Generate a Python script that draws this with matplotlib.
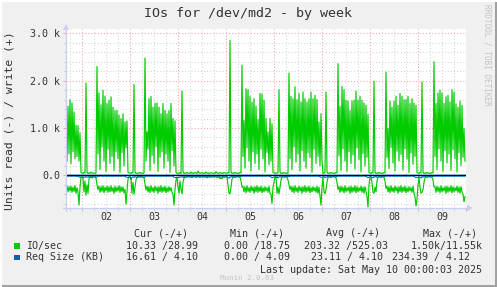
import numpy as np
import pandas as pd
import matplotlib
matplotlib.use('Agg')
import matplotlib.pyplot as plt
import matplotlib.dates as mdates
from matplotlib.patches import Polygon, Rectangle
from matplotlib.lines import Line2D

# ---------------- data (30-minute samples, IO/sec or KB) ----------------
start_time = '2025-05-01 16:00'

write_may1 = [1800, 300, 1460, 450, 1600, 250, 1530, 500, 1340, 350, 1060, 400, 1050, 300, 900, 60]
read_may1 = [300, 220, 350, 240, 330, 230, 360, 250, 340, 220, 380, 260, 350, 630, 250, 40]

write_may2 = [50, 40, 60, 50, 1950, 70, 40, 50, 40, 70, 50, 40, 50, 40, 50,
              2300, 450, 1740, 120, 1490, 600, 1800, 300, 1670, 80, 1520, 550, 1590, 250, 1660, 400,
              1440, 100, 1370, 500, 1370, 350, 1270, 60, 1200, 480, 1300, 200, 1130, 580, 1150,
              60, 50]
read_may2 = [30, 60, 350, 120, 420, 200, 380, 80, 30, 20, 30, 20, 30, 20, 60,
             200, 300, 230, 360, 240, 340, 220, 370, 250, 330, 230, 360, 240, 350, 220, 340,
             260, 380, 230, 350, 250, 330, 220, 360, 240, 340, 250, 370, 300, 610, 350, 80, 30]

write_may3 = [50, 40, 60, 50, 1920, 70, 40, 50, 40, 50, 60, 40, 50, 40, 50,
              2480, 300, 920, 550, 1620, 100, 1670, 420, 1440, 250, 1520, 600, 1530, 80, 1440, 380,
              1300, 500, 1520, 150, 1370, 450, 1300, 300, 1370, 60, 1520, 520, 1200, 200, 1150,
              60, 40]
read_may3 = [30, 50, 380, 150, 400, 250, 100, 30, 20, 30, 20, 30, 20, 30, 50,
             180, 310, 230, 350, 240, 370, 220, 340, 260, 360, 230, 330, 250, 380, 240, 350,
             220, 360, 250, 340, 230, 370, 260, 350, 240, 330, 260, 360, 400, 630, 300, 100, 40]

write_may4 = [50, 40, 60, 40, 1780, 80, 40, 50, 40, 60, 50, 40, 50, 70, 40, 50,
              40, 60, 50, 40, 90, 50, 40, 50, 60, 40, 50, 40, 70, 50, 40, 50,
              40, 60, 50, 40, 50, 40, 80, 50, 40, 50, 60, 40, 50, 40, 60, 50]
read_may4 = [250, 380, 120, 300, 390, 150, 60, 30, 20, 30, 20, 30, 20, 30, 20, 30,
             20, 30, 20, 30, 20, 30, 20, 30, 20, 30, 20, 30, 20, 30, 20, 30,
             20, 30, 20, 30, 20, 30, 20, 30, 20, 30, 70, 60, 70, 30, 20, 30]

write_may5 = [50, 40, 60, 50, 2850, 70, 40, 50, 40, 60, 50, 40, 50, 40, 60, 50,
              2330, 400, 1160, 150, 1830, 580, 1810, 300, 1670, 90, 1550, 500, 1620, 250, 1460, 450,
              1180, 120, 1730, 550, 1720, 350, 1590, 70, 1200, 480, 920, 220, 1200, 300, 1090,
              60]
read_may5 = [30, 40, 200, 380, 390, 250, 80, 40, 30, 20, 30, 20, 30, 20, 40, 120, 250,
             230, 350, 240, 370, 220, 340, 260, 360, 230, 330, 250, 380, 240, 350,
             220, 360, 250, 340, 230, 370, 260, 350, 240, 330, 260, 360, 230, 380,
             400, 600, 250]

write_may6 = [60, 40, 50, 40, 60, 1810, 70, 40, 50, 40, 60, 50, 40, 50, 40,
              2160, 350, 1670, 120, 1620, 600, 1870, 280, 1600, 450, 1730, 90, 1550, 520, 1760, 300,
              1620, 150, 1550, 480, 1620, 380, 1760, 60, 1620, 550, 1690, 250, 1600, 400, 1130, 200,
              1300]
read_may6 = [150, 40, 30, 380, 250, 390, 260, 100, 30, 20, 30, 20, 30, 40, 100, 200,
             300, 230, 350, 240, 370, 220, 340, 260, 360, 230, 330, 250, 380, 240, 350,
             220, 360, 250, 340, 230, 370, 260, 350, 240, 330, 260, 360, 230, 380, 250,
             450, 630]

write_may7 = [300, 50, 40, 60, 1760, 70, 40, 50, 40, 60, 50, 40, 50, 40, 60, 50,
              2360, 420, 1460, 100, 1880, 560, 1810, 300, 1590, 80, 1570, 500, 1370, 250, 1570, 430,
              1590, 130, 1780, 580, 1590, 330, 1670, 70, 1590, 460, 1530, 200, 1480, 380, 1290,
              60]
read_may7 = [250, 40, 350, 390, 300, 150, 40, 30, 20, 30, 20, 30, 20, 30, 50, 150, 300,
             240, 360, 230, 340, 250, 370, 220, 350, 260, 330, 240, 380, 230, 360,
             250, 340, 220, 370, 240, 350, 260, 330, 230, 360, 250, 380, 240, 350,
             450, 670, 200]

write_may8 = [50, 40, 60, 50, 1990, 70, 40, 50, 40, 60, 50, 40, 50, 40, 60, 50,
              2180, 380, 990, 140, 1570, 590, 1440, 260, 1570, 90, 1670, 510, 1480, 300, 1730, 440,
              1670, 110, 1600, 560, 1600, 340, 1670, 60, 1520, 470, 1620, 230, 1530, 400, 1480,
              60]
read_may8 = [40, 30, 150, 360, 380, 250, 350, 120, 40, 30, 20, 30, 20, 30, 40, 120, 280,
             230, 350, 240, 370, 220, 340, 260, 360, 230, 330, 250, 380, 240, 350,
             220, 360, 250, 340, 230, 370, 260, 350, 240, 330, 260, 360, 230, 380,
             450, 650, 500]

write_may9 = [50, 40, 60, 50, 1970, 70, 40, 50, 40, 60, 50, 40, 50, 40, 60, 50,
              2400, 400, 1520, 120, 1740, 560, 1800, 300, 1740, 80, 1520, 520, 1660, 260, 1690, 450,
              1550, 100, 1810, 540, 1760, 350, 1510, 70, 1440, 480, 1570, 210, 1480, 380, 990,
              300]
read_may9 = [200, 40, 250, 380, 360, 300, 150, 60, 30, 20, 30, 20, 30, 20, 40, 100, 250,
             240, 360, 230, 340, 250, 370, 220, 350, 260, 330, 240, 380, 230, 360,
             250, 340, 220, 370, 240, 350, 260, 330, 230, 360, 250, 380, 240, 350,
             400, 560, 450]

# Req Size (KB), read side
req_read_may1 = [18, 17, 19, 16, 18, 17, 19, 16, 18, 17, 19, 18, 20, 30, 40, 30]
req_read_may2 = [35, 50, 28, 42, 25, 32, 40, 22, 45, 28, 55, 25, 35, 30, 42,
                 30, 18, 17, 19, 16, 18, 17, 19, 16, 18, 17, 19, 18, 16, 17, 19,
                 18, 16, 17, 18, 19, 16, 17, 18, 19, 17, 16, 18, 20, 35, 40, 45, 35]
req_read_may3 = [32, 80, 40, 28, 45, 25, 35, 50, 28, 40, 22, 42, 32, 35, 45,
                 28, 17, 18, 16, 19, 17, 18, 16, 19, 17, 18, 16, 19, 17, 18, 16,
                 19, 17, 18, 16, 19, 17, 18, 16, 19, 17, 18, 16, 22, 38, 45, 50, 40]
req_read_may4 = [39, 52, 29, 36, 26, 45, 23, 32, 42, 26, 36, 20, 39, 29, 49, 26,
                 32, 23, 42, 29, 36, 26, 45, 23, 32, 39, 26, 36, 29, 52, 23, 32,
                 42, 26, 36, 29, 39, 23, 32, 45, 26, 36, 29, 39, 23, 32, 42, 29]
req_read_may5 = [32, 26, 42, 60, 29, 36, 23, 39, 26, 45, 29, 32, 23, 39, 29, 22,
                 17, 18, 16, 19, 17, 18, 16, 19, 17, 18, 16, 19, 17, 18, 16, 19,
                 17, 18, 16, 19, 17, 18, 16, 19, 17, 18, 16, 19, 22, 36, 48, 40]
req_read_may6 = [36, 29, 45, 26, 55, 32, 23, 39, 29, 36, 26, 42, 23, 32, 22,
                 28, 17, 18, 16, 19, 17, 18, 16, 19, 17, 18, 16, 19, 17, 18, 16,
                 19, 17, 18, 16, 19, 17, 18, 16, 19, 17, 18, 16, 19, 17, 18, 30, 40]
req_read_may7 = [42, 32, 26, 50, 29, 36, 23, 39, 26, 45, 29, 32, 23, 39, 29, 22,
                 17, 18, 16, 19, 17, 18, 16, 19, 17, 18, 16, 19, 17, 18, 16, 19,
                 17, 18, 16, 19, 17, 18, 16, 19, 17, 18, 16, 19, 22, 36, 48, 36]
req_read_may8 = [32, 29, 39, 52, 26, 36, 23, 42, 29, 32, 26, 45, 23, 36, 29, 22,
                 17, 18, 16, 19, 17, 18, 16, 19, 17, 18, 16, 19, 17, 18, 16, 19,
                 17, 18, 16, 19, 17, 18, 16, 19, 17, 18, 16, 19, 22, 36, 48, 40]
req_read_may9 = [45, 29, 36, 55, 26, 39, 23, 32, 29, 42, 26, 36, 23, 39, 29, 22,
                 17, 18, 16, 19, 17, 18, 16, 19, 17, 18, 16, 19, 17, 18, 16, 19,
                 17, 18, 16, 19, 17, 18, 16, 19, 17, 18, 16, 19, 17, 18, 16, 20]

# Req Size (KB), write side (one reading per day boundary)
req_write_times = ['2025-05-01 16:00', '2025-05-02 00:00', '2025-05-03 00:00', '2025-05-04 00:00',
                   '2025-05-05 00:00', '2025-05-06 00:00', '2025-05-07 00:00', '2025-05-08 00:00',
                   '2025-05-09 00:00', '2025-05-10 00:00']
req_write_vals = [4.10, 4.09, 4.11, 4.10, 4.12, 4.10, 4.09, 4.11, 4.10, 4.10]

day_labels = ['02', '03', '04', '05', '06', '07', '08', '09']
y_tick_vals = [0, 1000, 2000, 3000]
y_tick_labels = ['0.0', '1.0 k', '2.0 k', '3.0 k']

legend_names = ['IO/sec', 'Req Size (KB)']
legend_colors = ['#00CC00', '#0066B3']
legend_cur = ['10.33 /28.99', '16.61 / 4.10']
legend_min = ['0.00 /18.75', '0.00 / 4.09']
legend_avg = ['203.32 /525.03', '23.11 / 4.10']
legend_max = ['1.50k/11.55k', '234.39 / 4.12']

# ---------------- assemble ----------------
write = np.array(write_may1 + write_may2 + write_may3 + write_may4 + write_may5 +
                 write_may6 + write_may7 + write_may8 + write_may9, dtype=float)
read = np.array(read_may1 + read_may2 + read_may3 + read_may4 + read_may5 +
                read_may6 + read_may7 + read_may8 + read_may9, dtype=float)
req_read = np.array(req_read_may1 + req_read_may2 + req_read_may3 + req_read_may4 +
                    req_read_may5 + req_read_may6 + req_read_may7 + req_read_may8 +
                    req_read_may9, dtype=float)
assert len(write) == 400, len(write)
assert len(read) == 400, len(read)
assert len(req_read) == 400, len(req_read)

t = mdates.date2num(pd.date_range(start_time, periods=len(write), freq='30min').to_pydatetime())
t_req_w = mdates.date2num(pd.to_datetime(req_write_times, format='%Y-%m-%d %H:%M').to_pydatetime())
t_end = mdates.date2num(pd.Timestamp('2025-05-10 00:00').to_pydatetime())

# ---------------- figure ----------------
W, H = 497, 287
fig = plt.figure(figsize=(W / 100, H / 100), dpi=100, facecolor='#F0F0F0')


def fx(x):
    return x / W


def fy(y):
    return 1 - y / H


MONO = 'DejaVu Sans Mono'
TXT = '#333333'
L, R, T, B = 66, 466, 29, 208
ax = fig.add_axes([fx(L), fy(B), (R - L) / W, (B - T) / H])
ax.set_facecolor('white')
for s in ax.spines.values():
    s.set_visible(False)

ax.set_xlim(t[0], t_end)
ax.set_ylim(-691, 3093)

ax.xaxis.set_major_locator(mdates.DayLocator())
ax.xaxis.set_minor_locator(mdates.HourLocator(byhour=[6, 12, 18]))
ax.yaxis.set_minor_locator(plt.MultipleLocator(200))
ax.set_xticklabels([])
ax.set_yticks(y_tick_vals)
ax.set_yticklabels(y_tick_labels, family=MONO, fontsize=7.2, color=TXT)

MAJ = '#F2A2A2'
MIN = '#D4D4D4'
ax.grid(which='minor', color=MIN, linestyle=(0, (1, 2)), linewidth=0.75, zorder=0)
ax.grid(which='major', color=MAJ, linestyle=(0, (1, 2)), linewidth=0.75, zorder=0)
ax.set_axisbelow(True)
ax.tick_params(which='major', direction='out', length=2.2, width=0.7, color=MAJ, pad=2.0)
ax.tick_params(which='minor', direction='out', length=2.2, width=0.7, color=MIN)

ax.plot(t, write, color='#00CC00', lw=0.85, zorder=3)
ax.plot(t, -read, color='#00CC00', lw=0.85, zorder=3)
ax.plot(t, -req_read, color='#0066B3', lw=0.8, zorder=4)
ax.plot(t_req_w, req_write_vals, color='#0066B3', lw=0.8, zorder=4)
ax.axhline(0, color='black', lw=0.75, zorder=5)

# day labels at noon
noon = mdates.date2num(pd.date_range('2025-05-02 12:00', periods=len(day_labels), freq='D').to_pydatetime())
for xn, lab in zip(noon, day_labels):
    ax.text(xn, -(216.5 - B) / (B - T), lab, transform=ax.get_xaxis_transform(),
            ha='center', va='center', family=MONO, fontsize=7.2, color=TXT)

# axis lines with arrows
AX = '#C8CEF2'
fig.add_artist(Line2D([fx(L), fx(L)], [fy(B + 3), fy(27)], color=AX, lw=0.9))
fig.add_artist(Line2D([fx(L - 3), fx(468)], [fy(B), fy(B)], color=AX, lw=0.9))
fig.add_artist(Polygon([[fx(L - 3), fy(30)], [fx(L + 3), fy(30)], [fx(L), fy(24)]],
                       closed=True, color=AX, lw=0))
fig.add_artist(Polygon([[fx(467), fy(B - 3)], [fx(467), fy(B + 3)], [fx(473), fy(B)]],
                       closed=True, color=AX, lw=0))


def ftext(x, y, s, **kw):
    kw.setdefault('family', MONO)
    kw.setdefault('color', TXT)
    fig.text(fx(x), fy(y), s, **kw)


ftext(248.5, 13.3, 'IOs for /dev/md2 - by week', fontsize=9.6, ha='center', va='center')
ftext(487.5, 4, 'RRDTOOL / TOBI OETIKER', fontsize=5.6, rotation=270, ha='center', va='top',
      color='#C4C4C4')
ftext(10, 121, 'Units read (-) / write (+)', fontsize=8.2, rotation=90, ha='center', va='center')

# legend
ftext(134, 233.3, 'Cur (-/+)', fontsize=7.2, ha='left', va='center')
ftext(230, 233.3, 'Min (-/+)', fontsize=7.2, ha='left', va='center')
ftext(326, 233.3, 'Avg (-/+)', fontsize=7.2, ha='left', va='center')
ftext(422.7, 233.3, 'Max (-/+)', fontsize=7.2, ha='left', va='center')
rows_y = [245.7, 257.3]
avg_x = [304, 311]
max_x = [410.7, 392.3]
for k in range(2):
    y = rows_y[k]
    fig.add_artist(Rectangle((fx(14), fy(y + 2.8)), 5.5 / W, 5.5 / H, color=legend_colors[k], lw=0))
    ftext(26, y, legend_names[k], fontsize=7.2, ha='left', va='center')
    ftext(125.7, y, legend_cur[k], fontsize=7.2, ha='left', va='center')
    ftext(224, y, legend_min[k], fontsize=7.2, ha='left', va='center')
    ftext(avg_x[k], y, legend_avg[k], fontsize=7.2, ha='left', va='center')
    ftext(max_x[k], y, legend_max[k], fontsize=7.2, ha='left', va='center')
ftext(482.5, 269.7, 'Last update: Sat May 10 00:00:03 2025', fontsize=7.2, ha='right', va='center')
ftext(247, 277.5, 'Munin 2.0.63', fontsize=5.4, ha='center', va='center', color='#C4C4C4')

# frame
fig.add_artist(Rectangle((0, 0), 1, 2.5 / H, color='#A0A0A0', lw=0))
fig.add_artist(Rectangle((1 - 2.5 / W, 0), 2.5 / W, 1, color='#A0A0A0', lw=0))
fig.add_artist(Rectangle((0, 1 - 1.5 / H), 1, 1.5 / H, color='#FFFFFF', lw=0))
fig.add_artist(Rectangle((0, 0), 1.5 / W, 1, color='#FFFFFF', lw=0))

fig.savefig('out.png', dpi=100, facecolor=fig.get_facecolor())
